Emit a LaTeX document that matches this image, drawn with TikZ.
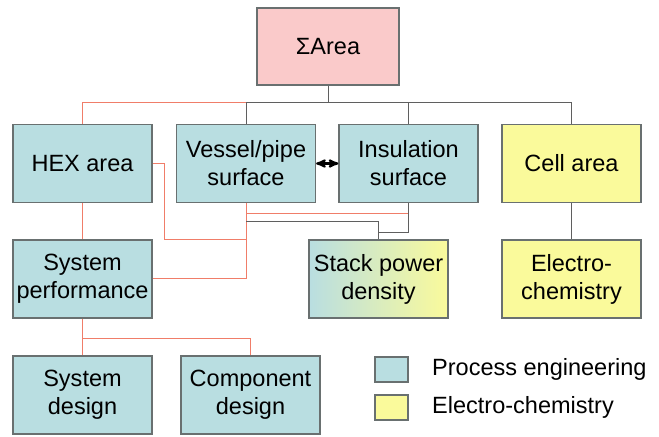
\documentclass[tikz,border=0pt]{standalone}
\usepackage{fontspec}
\setmainfont{Liberation Sans}
\usetikzlibrary{arrows,calc,positioning}
\definecolor{procfill}{RGB}{185,222,225}
\definecolor{chemfill}{RGB}{250,250,155}
\definecolor{sumfill}{RGB}{250,202,202}
\definecolor{boxline}{RGB}{105,112,112}
\definecolor{linkgray}{RGB}{95,95,95}
\definecolor{linkred}{RGB}{240,125,105}
\tikzset{
        x=1bp, y=-1bp, % pixel units, y runs downwards
        >=stealth', % bold arrow heads
    }
\tikzstyle{box}=[draw=boxline,line width=1.2bp,minimum width=139bp,minimum height=78bp,inner sep=0pt,align=center,font=\fontsize{23.6}{28}\selectfont]
\tikzstyle{procbox}=[box,fill=procfill]
\tikzstyle{chembox}=[box,fill=chemfill]
\tikzstyle{keybox}=[draw=boxline,line width=1.2bp,minimum width=33bp,minimum height=25bp,inner sep=0pt]
\tikzstyle{keytext}=[anchor=west,inner sep=0pt,font=\fontsize{23.6}{28}\selectfont]
\tikzstyle{grayline}=[draw=linkgray,line width=1bp]
\tikzstyle{redline}=[draw=linkred,line width=1bp]

\begin{document}
\begin{tikzpicture}
    \useasboundingbox (0,0) rectangle (659,437);
    % boxes
    \node[box,fill=sumfill,minimum width=142bp,minimum height=77bp] (area) at (328,46.5) {ΣArea};
    \node[procbox] (hex) at (82.5,163.5) {HEX area};
    \node[procbox] (vessel) at (246,163.5) {Vessel/pipe\\surface};
    \node[procbox] (insul) at (408.5,163.5) {Insulation\\surface};
    \node[chembox] (cell) at (571.5,163.5) {Cell area};
    \node[procbox] (perf) at (82.5,279) {System\\performance};
    \node[box,left color=procfill,right color=chemfill] (stack) at (378.5,279) {Stack power\\density};
    \node[chembox] (electro) at (571.5,279) {Electro-\\chemistry};
    \node[procbox] (sysdes) at (82.5,395) {System\\design};
    \node[procbox] (compdes) at (250.5,395) {Component\\design};
    % legend
    \node[keybox,fill=procfill] (keyproc) at (391.5,369.5) {};
    \node[keybox,fill=chemfill] (keychem) at (391.5,407.5) {};
    \node[keytext] (keyproctext) at (432,369.5) {Process engineering};
    \node[keytext] (keychemtext) at (432,407.5) {Electro-chemistry};

    % links from the sum box
    \coordinate (bus) at ($(vessel.north)+(0,-21)$);
    \draw[grayline] (area.south) -- (area.south |- bus);
    \draw[grayline] (vessel.north) -- (bus) -| (cell.north);
    \draw[grayline] (insul.north) -- (insul.north |- bus);
    \draw[redline] (bus) -| (hex.north);

    % links below the second row
    \draw[redline] (perf.east) -| (vessel.south);
    \draw[redline] (hex.east) -- ++(12,0) |- (vessel.south |- perf.north);
    \draw[redline] ($(vessel.south)+(0,10)$) -- ($(insul.south)+(0,10)$);
    \draw[grayline] ($(vessel.south)+(0,18)$) -| (stack.north);
    \draw[grayline] (insul.south) |- ($(stack.north)+(0,-7)$);
    \draw[grayline] (cell) -- (electro);
    \draw[redline] (hex) -- (perf);
    \draw[redline] (perf) -- (sysdes);
    \draw[redline] (perf.south) ++(0,20) -| (compdes.north);
    \draw[<->,line width=2.2bp] (vessel) -- (insul);
\end{tikzpicture}
\end{document}
